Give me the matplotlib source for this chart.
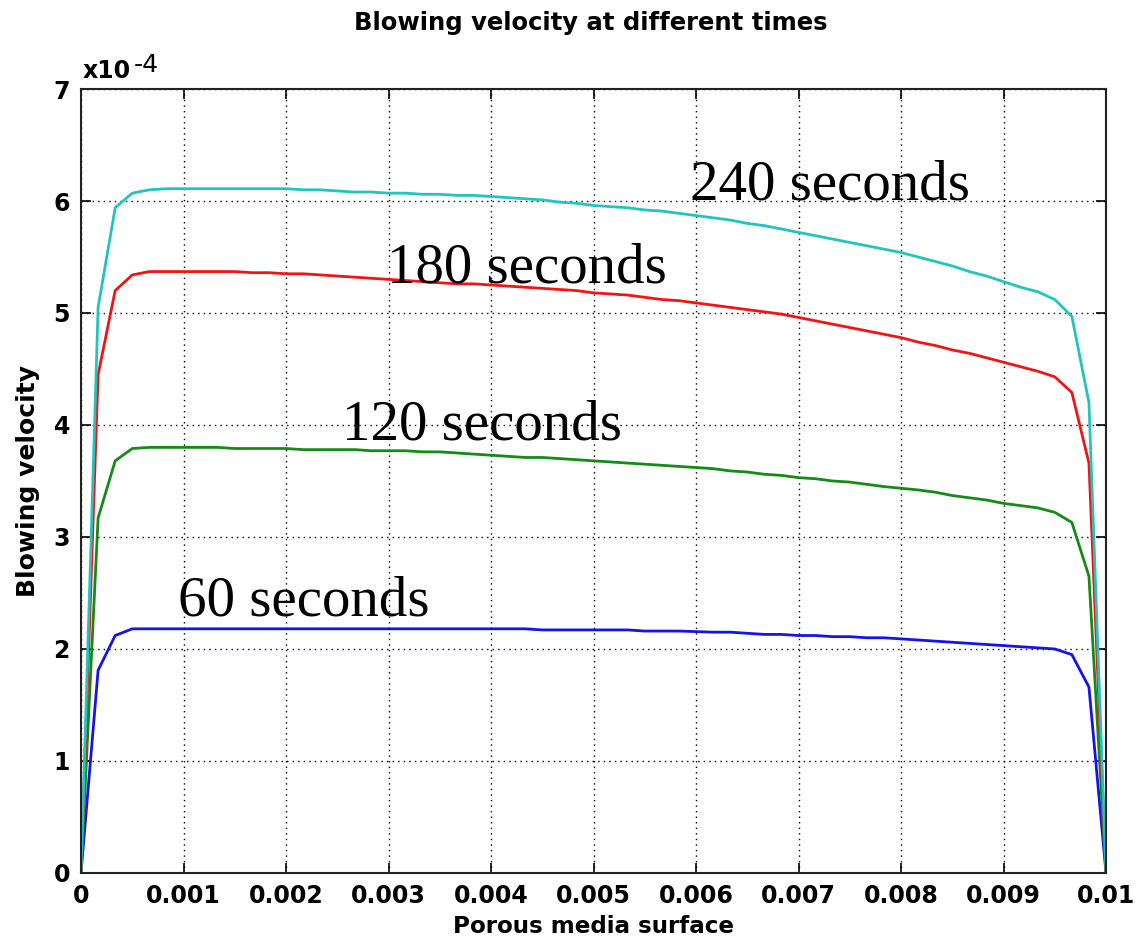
import numpy as np
import matplotlib
matplotlib.use("Agg")
import matplotlib.pyplot as plt

# x positions: porous media surface (m), 61 samples
x_start, x_end, n_pts = 0.0, 0.01, 61

# blowing velocity values, in units of 1e-4
v_240 = [0, 5.05, 5.94, 6.07, 6.10, 6.11, 6.11,
         6.11, 6.11, 6.11, 6.11, 6.11, 6.11,
         6.10, 6.10, 6.09, 6.08, 6.08, 6.07,
         6.07, 6.06, 6.06, 6.05, 6.05, 6.04,
         6.03, 6.02, 6.01, 5.99, 5.98, 5.96,
         5.95, 5.94, 5.92, 5.91, 5.89, 5.87,
         5.85, 5.83, 5.80, 5.78, 5.75, 5.72,
         5.69, 5.66, 5.63, 5.60, 5.57, 5.54,
         5.50, 5.46, 5.42, 5.37, 5.33, 5.28,
         5.23, 5.19, 5.12, 4.97, 4.20, 0]
v_180 = [0, 4.45, 5.20, 5.34, 5.37, 5.37, 5.37,
         5.37, 5.37, 5.37, 5.36, 5.36, 5.35,
         5.35, 5.34, 5.33, 5.32, 5.31, 5.30,
         5.29, 5.28, 5.27, 5.26, 5.26, 5.25,
         5.24, 5.23, 5.22, 5.21, 5.20, 5.18,
         5.17, 5.16, 5.14, 5.12, 5.11, 5.09,
         5.07, 5.05, 5.03, 5.01, 4.99, 4.96,
         4.93, 4.90, 4.87, 4.84, 4.81, 4.78,
         4.74, 4.71, 4.67, 4.64, 4.60, 4.56,
         4.52, 4.48, 4.43, 4.29, 3.66, 0]
v_120 = [0, 3.17, 3.68, 3.79, 3.80, 3.80, 3.80,
         3.80, 3.80, 3.79, 3.79, 3.79, 3.79,
         3.78, 3.78, 3.78, 3.78, 3.77, 3.77,
         3.77, 3.76, 3.76, 3.75, 3.74, 3.73,
         3.72, 3.71, 3.71, 3.70, 3.69, 3.68,
         3.67, 3.66, 3.65, 3.64, 3.63, 3.62,
         3.61, 3.59, 3.58, 3.56, 3.55, 3.53,
         3.52, 3.50, 3.49, 3.47, 3.45, 3.435,
         3.42, 3.40, 3.37, 3.35, 3.33, 3.30,
         3.28, 3.26, 3.22, 3.13, 2.65, 0]
v_60 = [0, 1.81, 2.12, 2.18, 2.18, 2.18, 2.18,
        2.18, 2.18, 2.18, 2.18, 2.18, 2.18,
        2.18, 2.18, 2.18, 2.18, 2.18, 2.18,
        2.18, 2.18, 2.18, 2.18, 2.18, 2.18,
        2.18, 2.18, 2.17, 2.17, 2.17, 2.17,
        2.17, 2.17, 2.16, 2.16, 2.16, 2.155,
        2.15, 2.15, 2.14, 2.13, 2.13, 2.12,
        2.12, 2.11, 2.11, 2.10, 2.10, 2.09,
        2.08, 2.07, 2.06, 2.05, 2.04, 2.03,
        2.02, 2.01, 2.00, 1.95, 1.66, 0]

labels = ["60 seconds", "120 seconds", "180 seconds", "240 seconds"]
label_x = [0.00095, 0.00255, 0.00299, 0.00594]
label_y = [2.30, 3.87, 5.27, 6.01]

x_ticks = [0, 0.001, 0.002, 0.003, 0.004, 0.005, 0.006, 0.007, 0.008, 0.009, 0.01]
x_ticklabels = ["0", "0.001", "0.002", "0.003", "0.004", "0.005", "0.006",
                "0.007", "0.008", "0.009", "0.01"]
y_ticks = [0, 1, 2, 3, 4, 5, 6, 7]

x = np.linspace(x_start, x_end, n_pts)

fig = plt.figure(figsize=(11.38, 9.5), dpi=100)
ax = fig.add_axes([0.0712, 0.0811, 0.9007, 0.8252])

series = [v_60, v_120, v_180, v_240]
colors = ["#1414e6", "#168a16", "#f01414", "#22c4c0"]
for v, c in zip(series, colors):
    ax.plot(x, v, color=c, lw=2.0, solid_joinstyle="round")

ax.set_xlim(0, 0.01)
ax.set_ylim(0, 7)
ax.set_xticks(x_ticks)
ax.set_xticklabels(x_ticklabels)
ax.set_yticks(y_ticks)
ax.grid(True, color="black", linestyle=(0, (1, 3)), linewidth=1.0)
ax.tick_params(direction="in", length=7, width=1.2, top=True, right=True,
               labelsize=17, pad=8)
for lab in ax.get_xticklabels() + ax.get_yticklabels():
    lab.set_fontweight("bold")
for s in ax.spines.values():
    s.set_linewidth(1.5)
    s.set_color("#222222")

ax.set_xlabel("Porous media surface", fontsize=16.6, fontweight="bold", labelpad=5)
ax.set_ylabel("Blowing velocity", fontsize=18, fontweight="bold", labelpad=10)
fig.text(0.519, 0.976, "Blowing velocity at different times", ha="center",
         va="center", fontsize=17.5, fontweight="bold")
fig.text(83 / 1138, 1 - 78 / 950, "x10", fontsize=17, fontweight="bold",
         va="baseline", ha="left")
fig.text(134 / 1138, 1 - 72 / 950, "-4", fontsize=18,
         va="baseline", ha="left")

for t, lx, ly in zip(labels, label_x, label_y):
    ax.text(lx, ly, t, fontsize=41, family="Liberation Serif",
            va="baseline", ha="left")

fig.savefig("out.png", dpi=100)
